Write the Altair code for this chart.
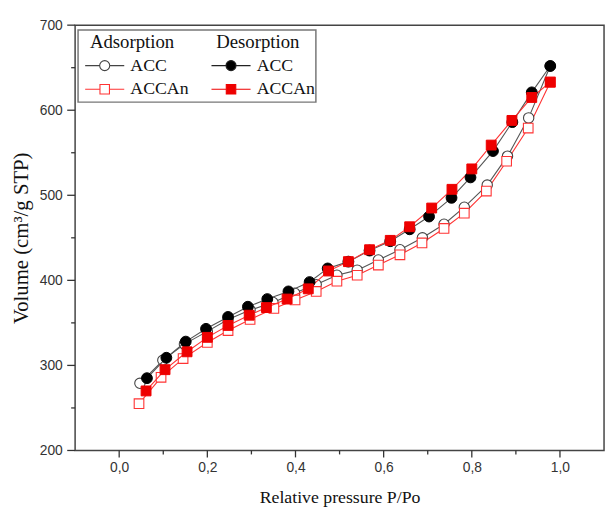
import altair as alt
import pandas as pd

# Adsorption branch
ads_acc_x = [0.047, 0.099, 0.148, 0.200, 0.247, 0.297, 0.349, 0.398, 0.447, 0.494,
             0.540, 0.588, 0.637, 0.688, 0.737, 0.783, 0.835, 0.881, 0.929, 0.978]
ads_acc_v = [279, 306, 325, 340, 354, 365, 374, 385, 395, 406,
             412, 424, 436, 450, 466, 486, 512, 546, 591, 652]
ads_accan_x = [0.045, 0.095, 0.145, 0.200, 0.247, 0.297, 0.351, 0.399, 0.447, 0.494,
               0.540, 0.588, 0.637, 0.687, 0.737, 0.783, 0.833, 0.879, 0.928, 0.978]
ads_accan_v = [255, 286, 308, 327, 341, 354, 367, 377, 387, 399,
               406, 418, 430, 444, 461, 479, 505, 540, 579, 633]
# Desorption branch
des_acc_x = [0.978, 0.936, 0.892, 0.848, 0.797, 0.754, 0.703, 0.659, 0.615, 0.568, 0.520,
             0.473, 0.432, 0.384, 0.336, 0.292, 0.247, 0.197, 0.151, 0.107, 0.063]
des_acc_v = [652, 621, 586, 552, 521, 497, 475, 460, 446, 435, 422,
             414, 398, 387, 378, 369, 357, 343, 328, 309, 285]
des_accan_x = [0.978, 0.936, 0.891, 0.844, 0.800, 0.755, 0.709, 0.659, 0.615, 0.568, 0.520,
               0.475, 0.429, 0.381, 0.334, 0.295, 0.247, 0.200, 0.154, 0.104, 0.061]
des_accan_v = [633, 615, 588, 559, 531, 507, 485, 463, 447, 436, 422,
               411, 390, 378, 368, 359, 347, 333, 316, 295, 270]

series_names = ["ACC", "ACCAn"]
x_major = [0.0, 0.2, 0.4, 0.6, 0.8, 1.0]
x_minor = [0.1, 0.3, 0.5, 0.7, 0.9]
y_major = [200, 300, 400, 500, 600, 700]
y_minor = [250, 350, 450, 550, 650]

W, H = 536, 431


def frame(xs, vs):
    return pd.DataFrame({"x": xs, "v": vs})


d_ads_acc = frame(ads_acc_x, ads_acc_v)
d_ads_accan = frame(ads_accan_x, ads_accan_v)
d_des_acc = frame(des_acc_x, des_acc_v)
d_des_accan = frame(des_accan_x, des_accan_v)

xscale = alt.Scale(domain=[-0.1, 1.1], nice=False, zero=False)
yscale = alt.Scale(domain=[200, 700], nice=False, zero=False)

x_axis = alt.Axis(
    values=x_major, ticks=False, domain=False,
    labelExpr="replace(format(datum.value, '.1f'), '.', ',')",
    labelPadding=10, title="Relative pressure P/Po", titlePadding=15,
)
y_axis = alt.Axis(
    values=y_major, ticks=False, domain=False,
    labelExpr="format(datum.value, 'd')",
    labelPadding=13, title="Volume (cm³/g STP)", titlePadding=8, titleFontSize=21,
)

X = alt.X("x:Q", scale=xscale, axis=x_axis)
Y = alt.Y("v:Q", scale=yscale, axis=y_axis)

GRAY = "#555555"
RED = "#ff3333"
AXC = "#333333"


def line(df, color):
    return alt.Chart(df).mark_line(color=color, strokeWidth=1.1).encode(x=X, y=Y, order="x:Q")


ads_acc_line = line(d_ads_acc, GRAY)
ads_accan_line = line(d_ads_accan, RED)
des_acc_line = line(d_des_acc, GRAY)
des_accan_line = line(d_des_accan, RED)

ads_acc_pts = alt.Chart(d_ads_acc).mark_point(
    shape="circle", size=110, fill="white", stroke="#444444", strokeWidth=1.1, opacity=1, filled=True
).encode(x=X, y=Y)
ads_accan_pts = alt.Chart(d_ads_accan).mark_point(
    shape="square", size=95, fill="white", stroke=RED, strokeWidth=1.1, opacity=1, filled=True
).encode(x=X, y=Y)
des_acc_pts = alt.Chart(d_des_acc).mark_point(
    shape="circle", size=120, fill="black", stroke="black", strokeWidth=1, opacity=1, filled=True
).encode(x=X, y=Y)
des_accan_pts = alt.Chart(d_des_accan).mark_point(
    shape="square", size=100, fill="#ee0000", stroke="#ee0000", strokeWidth=1, opacity=1, filled=True
).encode(x=X, y=Y)

# axis tick marks drawn through the scales from the tick-value arrays
xt_major = alt.Chart(pd.DataFrame({"x": x_major})).mark_tick(
    orient="vertical", color=AXC, size=7, thickness=1.3, opacity=1
).encode(x=X, y=alt.value(H + 3.5))
xt_minor = alt.Chart(pd.DataFrame({"x": x_minor})).mark_tick(
    orient="vertical", color=AXC, size=4, thickness=1.3, opacity=1
).encode(x=X, y=alt.value(H + 2))
yt_major = alt.Chart(pd.DataFrame({"v": y_major})).mark_tick(
    orient="horizontal", color=AXC, size=8, thickness=1.3, opacity=1
).encode(y=Y, x=alt.value(-4))
yt_minor = alt.Chart(pd.DataFrame({"v": y_minor})).mark_tick(
    orient="horizontal", color=AXC, size=4, thickness=1.3, opacity=1
).encode(y=Y, x=alt.value(-2))

# legend symbols: line segment + marker (unit = sqrt(size)/2 px)
P_CIRCLE = ("M-3.3,0H-0.85 M0.85,0H3.3 "
            "M0.85,0A0.85,0.85,0,1,1,-0.85,0A0.85,0.85,0,1,1,0.85,0Z")
P_SQUARE = "M-3.3,0H-0.8 M0.8,0H3.3 M-0.8,-0.8H0.8V0.8H-0.8Z"


def legend_layer(field, title, fills, strokes, lx):
    leg = alt.Legend(
        title=title, orient="none", legendX=lx, legendY=8,
        symbolSize=144, symbolOffset=6, labelOffset=17,
        rowPadding=6, titlePadding=5, padding=0, symbolStrokeWidth=1.1,
        symbolFillColor="white",
    )
    df = pd.DataFrame({"x": [0.5, 0.5], "v": [400, 400], field: series_names})
    return alt.Chart(df).mark_point(opacity=0, filled=True).encode(
        x=X, y=Y,
        shape=alt.Shape(f"{field}:N", scale=alt.Scale(domain=series_names, range=[P_CIRCLE, P_SQUARE]), legend=leg),
        fill=alt.Fill(f"{field}:N", scale=alt.Scale(domain=series_names, range=fills), legend=leg),
        stroke=alt.Stroke(f"{field}:N", scale=alt.Scale(domain=series_names, range=strokes), legend=leg),
    )


leg_ads = legend_layer("ads", "Adsorption", ["white", "white"], ["#444444", RED], 15)
leg_des = legend_layer("des", "Desorption", ["black", "#ee0000"], ["#222222", "#ee0000"], 143)

legend_box = alt.Chart(pd.DataFrame({"a": [0]})).mark_rect(
    fill="white", stroke="#777777", strokeWidth=1.5
).encode(x=alt.value(3), x2=alt.value(244), y=alt.value(5), y2=alt.value(78))

chart = alt.layer(
    xt_major, xt_minor, yt_major, yt_minor,
    ads_acc_line, ads_accan_line,
    ads_acc_pts, ads_accan_pts,
    des_acc_line, des_accan_line,
    des_acc_pts, des_accan_pts,
    legend_box, leg_ads, leg_des,
).resolve_scale(
    shape="independent", fill="independent", stroke="independent"
).properties(
    width=W, height=H,
    autosize=alt.AutoSizeParams(type="none"),
    padding={"left": 68, "top": 14, "right": 3, "bottom": 62},
).configure_view(
    stroke="#444444", strokeWidth=1.5
).configure_axis(
    grid=False,
    labelFont="Liberation Sans", labelFontSize=14, labelColor="#333333",
    titleFont="Liberation Serif", titleFontSize=18, titleFontWeight="normal", titleColor="#111111",
).configure_legend(
    labelFont="Liberation Serif", labelFontSize=18, labelColor="#111111",
    titleFont="Liberation Serif", titleFontSize=19, titleFontWeight="normal", titleColor="#111111",
)

chart.save("out.html", embed_options={"renderer": "svg", "actions": False})
